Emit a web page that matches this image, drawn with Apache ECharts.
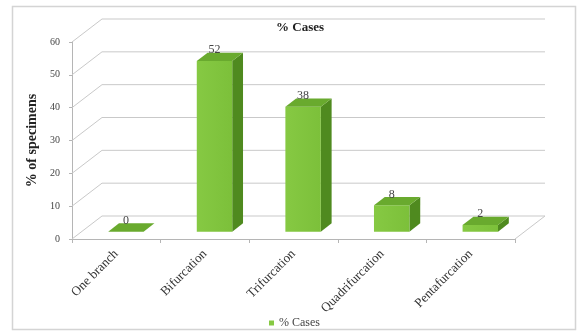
<!DOCTYPE html>
<html>
<head>
<meta charset="utf-8">
<script src="https://cdn.jsdelivr.net/npm/echarts@6/dist/echarts.min.js"></script>
<style>html,body{margin:0;padding:0;background:#fff;}#c{width:581px;height:335px;}</style>
</head>
<body>
<div id="c"></div>
<script>
var categories = ['One branch', 'Bifurcation', 'Trifurcation', 'Quadrifurcation', 'Pentafurcation'];
var cases = [0, 52, 38, 8, 2];
var yTicks = [0, 10, 20, 30, 40, 50, 60];
var seriesName = '% Cases';
var titleText = '% Cases';
var yAxisName = '% of specimens';

var DX = 30, DY = -23;       // depth offset of the back wall
var Z0 = 0.32, Z1 = 0.68;    // bar depth range
var SERIF = '"Liberation Serif", "DejaVu Serif", serif';
var GRID_COLOR = '#c9c9c9';

var chart = echarts.init(document.getElementById('c'));

function frameItem(params, api) {
  var cs = params.coordSys;
  var v = api.value(0);
  var y = api.coord([0, v])[1];
  var x0 = cs.x, x1 = cs.x + cs.width;
  var children = [
    { type: 'line', shape: { x1: x0, y1: y, x2: x0 + DX, y2: y + DY }, style: { stroke: GRID_COLOR, lineWidth: 1 } },
    { type: 'line', shape: { x1: x0 + DX, y1: y + DY, x2: x1 + DX, y2: y + DY }, style: { stroke: GRID_COLOR, lineWidth: 1 } }
  ];
  if (v === 0) {
    children.push({ type: 'line', shape: { x1: x1, y1: y, x2: x1 + DX, y2: y + DY }, style: { stroke: GRID_COLOR, lineWidth: 1 } });
  }
  return { type: 'group', children: children };
}

function barItem(params, api) {
  var idx = api.value(0);
  var val = api.value(1);
  var top = api.coord([idx, val]);
  var base = api.coord([idx, 0]);
  var w = api.size([1, 0])[0] * 0.4;
  var fx = top[0] + Z0 * DX - w / 2;
  var fTop = top[1] + Z0 * DY;
  var fBot = base[1] + Z0 * DY;
  var ddx = (Z1 - Z0) * DX, ddy = (Z1 - Z0) * DY;
  var children = [];
  children.push({ type: 'polygon', shape: { points: [[fx + w, fTop], [fx + w + ddx, fTop + ddy], [fx + w + ddx, fBot + ddy], [fx + w, fBot]] },
    style: { fill: '#4f8a1f' } });
  if (fBot - fTop > 0.5) {
    children.push({ type: 'rect', shape: { x: fx, y: fTop, width: w, height: fBot - fTop },
      style: { fill: new echarts.graphic.LinearGradient(0, 0, 1, 0, [{ offset: 0, color: '#86c943' }, { offset: 1, color: '#7cc03a' }]) } });
  }
  children.push({ type: 'polygon', shape: { points: [[fx, fTop], [fx + ddx, fTop + ddy], [fx + w + ddx, fTop + ddy], [fx + w, fTop]] },
    style: { fill: '#69aa2e' } });
  children.push({ type: 'text', style: { text: String(val), x: fx + w / 2, y: fTop - 5, textAlign: 'center', textVerticalAlign: 'bottom',
    font: '12px ' + SERIF, fill: '#444' } });
  return { type: 'group', children: children };
}

var option = {
  backgroundColor: '#fff',
  animation: false,
  title: {
    text: titleText, left: 295, top: 16, textAlign: 'center',
    textStyle: { fontFamily: SERIF, fontSize: 13, fontWeight: 'bold', color: '#222' }
  },
  legend: {
    data: [seriesName], left: 264, top: 312, icon: 'rect', itemWidth: 5, itemHeight: 5, itemGap: 4,
    textStyle: { fontFamily: SERIF, fontSize: 12, color: '#444' }
  },
  graphic: [{
    type: 'rect', shape: { x: 12.5, y: 6.5, width: 563, height: 323 },
    style: { fill: 'none', stroke: '#d4d4d4', lineWidth: 1.5 }, silent: true, z: -1
  }],
  grid: { left: 72, right: 66, top: 42, bottom: 96, containLabel: false },
  xAxis: {
    type: 'category', data: categories, boundaryGap: true,
    axisLine: { lineStyle: { color: '#b5b5b5' } },
    axisTick: { show: true, length: 4, lineStyle: { color: '#b5b5b5' } },
    axisLabel: { rotate: 45, interval: 0, margin: 13, fontFamily: SERIF, fontSize: 13, color: '#333' },
    splitLine: { show: false }
  },
  yAxis: {
    type: 'value', min: 0, max: 60, interval: 10,
    name: yAxisName, nameLocation: 'middle', nameGap: 33, nameRotate: 90,
    nameTextStyle: { fontFamily: SERIF, fontSize: 14, fontWeight: 'bold', color: '#222' },
    axisLine: { show: true, lineStyle: { color: '#b5b5b5' } },
    axisTick: { show: true, length: 3, lineStyle: { color: '#b5b5b5' } },
    axisLabel: { margin: 12, fontFamily: SERIF, fontSize: 10, color: '#444' },
    splitLine: { show: false }
  },
  series: [
    {
      type: 'custom', name: 'frame', silent: true, z: 1,
      data: yTicks.map(function (t) { return [t]; }),
      encode: { y: 0 },
      renderItem: frameItem
    },
    {
      type: 'custom', name: seriesName, z: 2,
      itemStyle: { color: '#86c943' },
      data: cases.map(function (v, i) { return [i, v]; }),
      encode: { x: 0, y: 1 },
      renderItem: barItem
    }
  ]
};
chart.setOption(option);
</script>
</body>
</html>
